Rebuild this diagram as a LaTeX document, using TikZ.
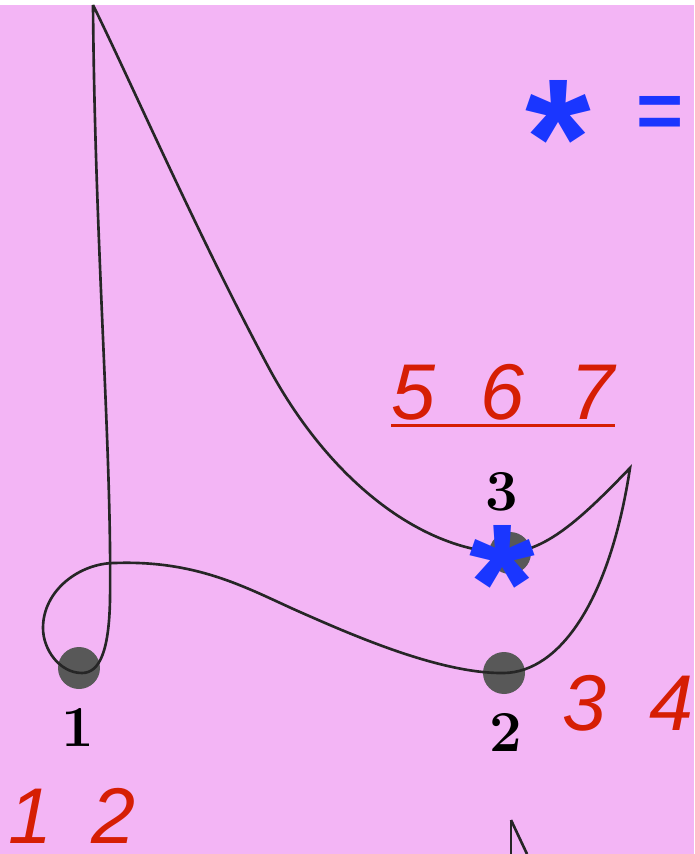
\documentclass[tikz,border=0pt]{standalone}
\usepackage{fontspec}
\newfontfamily\helv{Liberation Sans}
\usepackage{tikz}
\usetikzlibrary{calc,positioning}
\definecolor{mypink}{RGB}{243,181,245}
\definecolor{myred}{RGB}{214,30,4}
\definecolor{myblue}{RGB}{26,54,255}
\definecolor{mygray}{RGB}{88,88,88}
% asterisk centred on its node
\newcommand{\midstar}{\raisebox{-0.5em}[0.15em][0.15em]{*}}

\begin{document}
\begin{tikzpicture}[x=0.02cm,y=-0.02cm,
  dot/.style={circle, fill=mygray, minimum size=0.84cm, inner sep=0},
  vlabel/.style={inner sep=0, font=\fontsize{33}{33}\selectfont\bfseries},
  rednum/.style={inner sep=0, text=myred, font=\helv\itshape\fontsize{45}{45}\selectfont},
  bluestar/.style={inner sep=0, text=myblue, font=\helv\bfseries\fontsize{96}{96}\selectfont},
  curve/.style={line width=1.5pt, black!85}]
  \useasboundingbox (0,0) rectangle (694,854);
  \fill[white] (0,0) rectangle (694,5);
  \fill[mypink] (0,5) rectangle (694,854);

  % vertices
  \node[dot] (n1) at (79,668) {};
  \node[dot] (n2) at (504,673) {};
  \node[dot] (n3) at (510,553) {};
  \node[vlabel] (l1) at (78,727) {1};
  \node[vlabel] (l2) at (506,732) {2};
  \node[vlabel] (l3) at (502,492) {3};

  % the closed curve with two cusps
  \coordinate (cA) at (93,5);
  \coordinate (cB) at (630,468);
  \draw[curve] (cA) .. controls (95,250) and (112,450) .. (110,600)
    .. controls (109,650) and (100,673) .. (82,673)
    .. controls (60,673) and (43,650) .. (43,628)
    .. controls (43,590) and (80,563) .. (115,563)
    .. controls (200,560) and (250,590) .. (300,612)
    .. controls (350,634) and (440,674) .. (n2.center)
    .. controls (560,672) and (610,600) .. (cB)
    .. controls (580,520) and (545,552) .. (505,553)
    .. controls (420,550) and (330,480) .. (270,370)
    .. controls (200,240) and (130,80) .. (cA);

  % piece of the next curve
  \coordinate (cC) at (511,820);
  \draw[curve] (cC) -- (511,854);
  \draw[curve] (cC) -- (527,854);

  % stars and counts
  \node[bluestar] (s3) at (502,557) {\midstar};
  \node[bluestar] (s0) at (558,112) {\midstar};
  \node[inner sep=0, anchor=base, text=myblue, font=\helv\bfseries\fontsize{46}{46}\selectfont] (eq) at (660,139) {=};
  \node[rednum] (r567) at (503,392) {5\hspace{26pt}6\hspace{26pt}7};
  \draw[myred, line width=1.7pt] ([yshift=-3pt]r567.south west) -- ([yshift=-3pt]r567.south east);
  \node[rednum] (r34) at (628,703) {3\hspace{24pt}4};
  \node[rednum] (r12) at (72,816) {1\hspace{22pt}2};
\end{tikzpicture}
\end{document}
